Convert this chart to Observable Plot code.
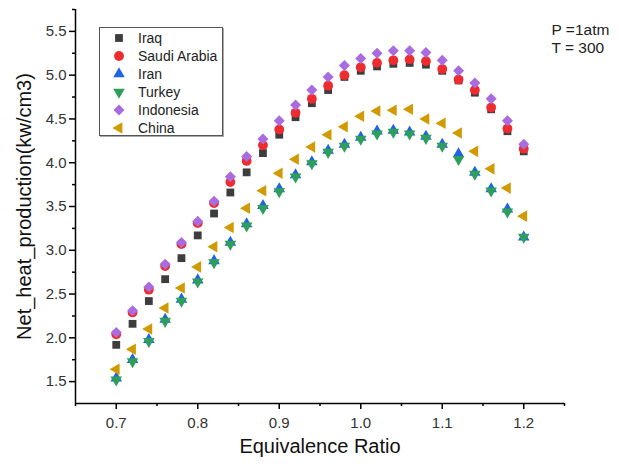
<!DOCTYPE html>
<html><head><meta charset="utf-8">
<script src="https://cdn.jsdelivr.net/npm/d3@7"></script>
<script src="https://cdn.jsdelivr.net/npm/@observablehq/plot@0.6"></script>
<style>
body{margin:0;background:#fff;font-family:"Liberation Sans",Arial,sans-serif;}
#wrap{position:relative;width:619px;height:468px;overflow:hidden;}
#legend{position:absolute;left:99px;top:27px;width:124px;height:109px;box-sizing:border-box;border:1.5px solid #555;box-shadow:1px 1px 0 #aaa;background:#fff;}
.row{position:absolute;left:0;height:18px;display:flex;align-items:center;font-size:14px;color:#222;}
.row svg{position:absolute;left:9px;top:-1px;}
.row span{position:absolute;left:38px;white-space:nowrap;line-height:18px;top:0;}
</style></head><body><div id="wrap"><div id="legend"></div></div>
<script>
const ratios = [0.70,0.72,0.74,0.76,0.78,0.80,0.82,0.84,0.86,0.88,0.90,0.92,0.94,0.96,0.98,1.00,1.02,1.04,1.06,1.08,1.10,1.12,1.14,1.16,1.18,1.20];
const iraq      = [1.92,2.16,2.42,2.67,2.91,3.17,3.42,3.66,3.89,4.11,4.32,4.52,4.68,4.83,4.98,5.05,5.10,5.13,5.14,5.12,5.05,4.94,4.80,4.61,4.36,4.13];
const saudi     = [2.04,2.29,2.55,2.82,3.07,3.31,3.54,3.78,4.02,4.20,4.38,4.57,4.73,4.88,5.00,5.09,5.14,5.17,5.18,5.16,5.07,4.95,4.83,4.63,4.39,4.16];
const iran      = [1.54,1.75,1.98,2.21,2.44,2.66,2.88,3.09,3.30,3.51,3.70,3.86,4.01,4.14,4.21,4.29,4.36,4.37,4.35,4.30,4.21,4.10,3.89,3.70,3.47,3.15];
const turkey    = [1.52,1.73,1.96,2.19,2.42,2.64,2.86,3.07,3.28,3.48,3.67,3.84,3.99,4.12,4.19,4.27,4.33,4.35,4.33,4.28,4.19,4.04,3.87,3.68,3.44,3.15];
const indonesia = [2.06,2.31,2.58,2.84,3.09,3.33,3.56,3.84,4.07,4.27,4.48,4.66,4.83,4.98,5.11,5.19,5.25,5.28,5.28,5.26,5.17,5.05,4.91,4.73,4.48,4.21];
const china     = [1.64,1.87,2.10,2.34,2.57,2.81,3.04,3.26,3.48,3.68,3.88,4.04,4.18,4.32,4.41,4.53,4.59,4.60,4.61,4.50,4.45,4.34,4.13,3.93,3.71,3.39];

const seriesNames  = ["Iraq","Saudi Arabia","Iran","Turkey","Indonesia","China"];
const seriesValues = [iraq, saudi, iran, turkey, indonesia, china];
const seriesColors = ["#3d3d3d","#ee2b2f","#1f63e6","#2e9e5b","#a96be0","#d19a00"];

const xDomain = [0.65, 1.25];
const yDomain = [1.25, 5.75];
const xTickValues = [0.7,0.8,0.9,1.0,1.1,1.2];
const xMinorTicks = [0.65,0.75,0.85,0.95,1.05,1.15,1.25];
const yTickValues = [1.5,2.0,2.5,3.0,3.5,4.0,4.5,5.0,5.5];
const yMinorTicks = [1.75,2.25,2.75,3.25,3.75,4.25,4.75,5.25,5.75];
const xTitle = "Equivalence Ratio";
const yTitle = "Net_heat_production(kw/cm3)";
const notes = ["P =1atm","T = 300"];

// custom symbols
const sq3 = Math.sqrt(3);
const triUp = {draw(c,s){const y=-Math.sqrt(s/(sq3*3));c.moveTo(0,y*2);c.lineTo(-sq3*y,-y);c.lineTo(sq3*y,-y);c.closePath();}};
const triDown = {draw(c,s){const y=-Math.sqrt(s/(sq3*3));c.moveTo(0,-y*2);c.lineTo(-sq3*y,y);c.lineTo(sq3*y,y);c.closePath();}};
const triLeft = {draw(c,s){const y=-Math.sqrt(s/(sq3*3));c.moveTo(y*2,0);c.lineTo(-y,-sq3*y);c.lineTo(-y,sq3*y);c.closePath();}};
const diamond = {draw(c,s){const h=Math.sqrt(s/2);c.moveTo(0,-h);c.lineTo(h,0);c.lineTo(0,h);c.lineTo(-h,0);c.closePath();}};
const seriesSymbols = [d3.symbolSquare, d3.symbolCircle, triUp, triDown, diamond, triLeft];
const seriesR = [4.4, 4.9, 4.3, 4.3, 4.4, 4.3];

const rows = seriesNames.map((name,i)=>ratios.map((r,j)=>({ratio:r, value:seriesValues[i][j], series:name})));

const fmt = d3.format(".1f");
const axisStyle = {stroke:"#000", strokeWidth:1.5};

const plot = Plot.plot({
  width: 619, height: 468,
  marginLeft: 75, marginRight: 55, marginTop: 9, marginBottom: 65,
  style: {fontFamily: '"Liberation Sans", Arial, sans-serif', background: "transparent", overflow: "visible"},
  x: {domain: xDomain, label: null},
  y: {domain: yDomain, label: null},
  marks: [
    ...rows.map((data,i)=>Plot.dot(data, {x:"ratio", y:"value", symbol: seriesSymbols[i], r: seriesR[i], fill: seriesColors[i], stroke: "none"})),
    Plot.ruleX([xDomain[0]], axisStyle),
    Plot.ruleY([yDomain[0]], axisStyle),
    Plot.axisX(xTickValues, {tickSize:6, tickPadding:8, tickFormat: fmt, fontSize:15, fill:"#333", ...axisStyle, label:null}),
    Plot.axisX(xMinorTicks, {tickSize:3, tickFormat: ()=>"", ...axisStyle, label:null}),
    Plot.axisY(yTickValues, {tickSize:6, tickPadding:3, tickFormat: fmt, fontSize:15, fill:"#333", ...axisStyle, label:null}),
    Plot.axisY(yMinorTicks, {tickSize:3, tickFormat: ()=>"", ...axisStyle, label:null}),
    Plot.text([xTitle], {frameAnchor:"bottom", textAnchor:"middle", dy:49, fontSize:20, fill:"#111"}),
    Plot.text([yTitle], {frameAnchor:"left", textAnchor:"middle", rotate:-90, dx:-51, fontSize:20, fill:"#111"}),
    Plot.text([notes.join("\n")], {frameAnchor:"top-right", textAnchor:"start", lineAnchor:"top", dx:-13, dy:13, lineHeight:1.16, fontSize:15.5, fill:"#222"})
  ]
});
document.getElementById("wrap").prepend(plot);

// legend
const legend = document.getElementById("legend");
seriesNames.forEach((name,i)=>{
  const row = document.createElement("div");
  row.className = "row";
  row.style.top = (1 + i*17.9) + "px";
  const r = seriesR[i];
  const path = d3.symbol(seriesSymbols[i], Math.PI*r*r)();
  row.innerHTML = `<svg width="20" height="20" viewBox="-10 -10 20 20"><path d="${path}" fill="${seriesColors[i]}"/></svg><span>${name}</span>`;
  legend.appendChild(row);
});
</script>
</body></html>
